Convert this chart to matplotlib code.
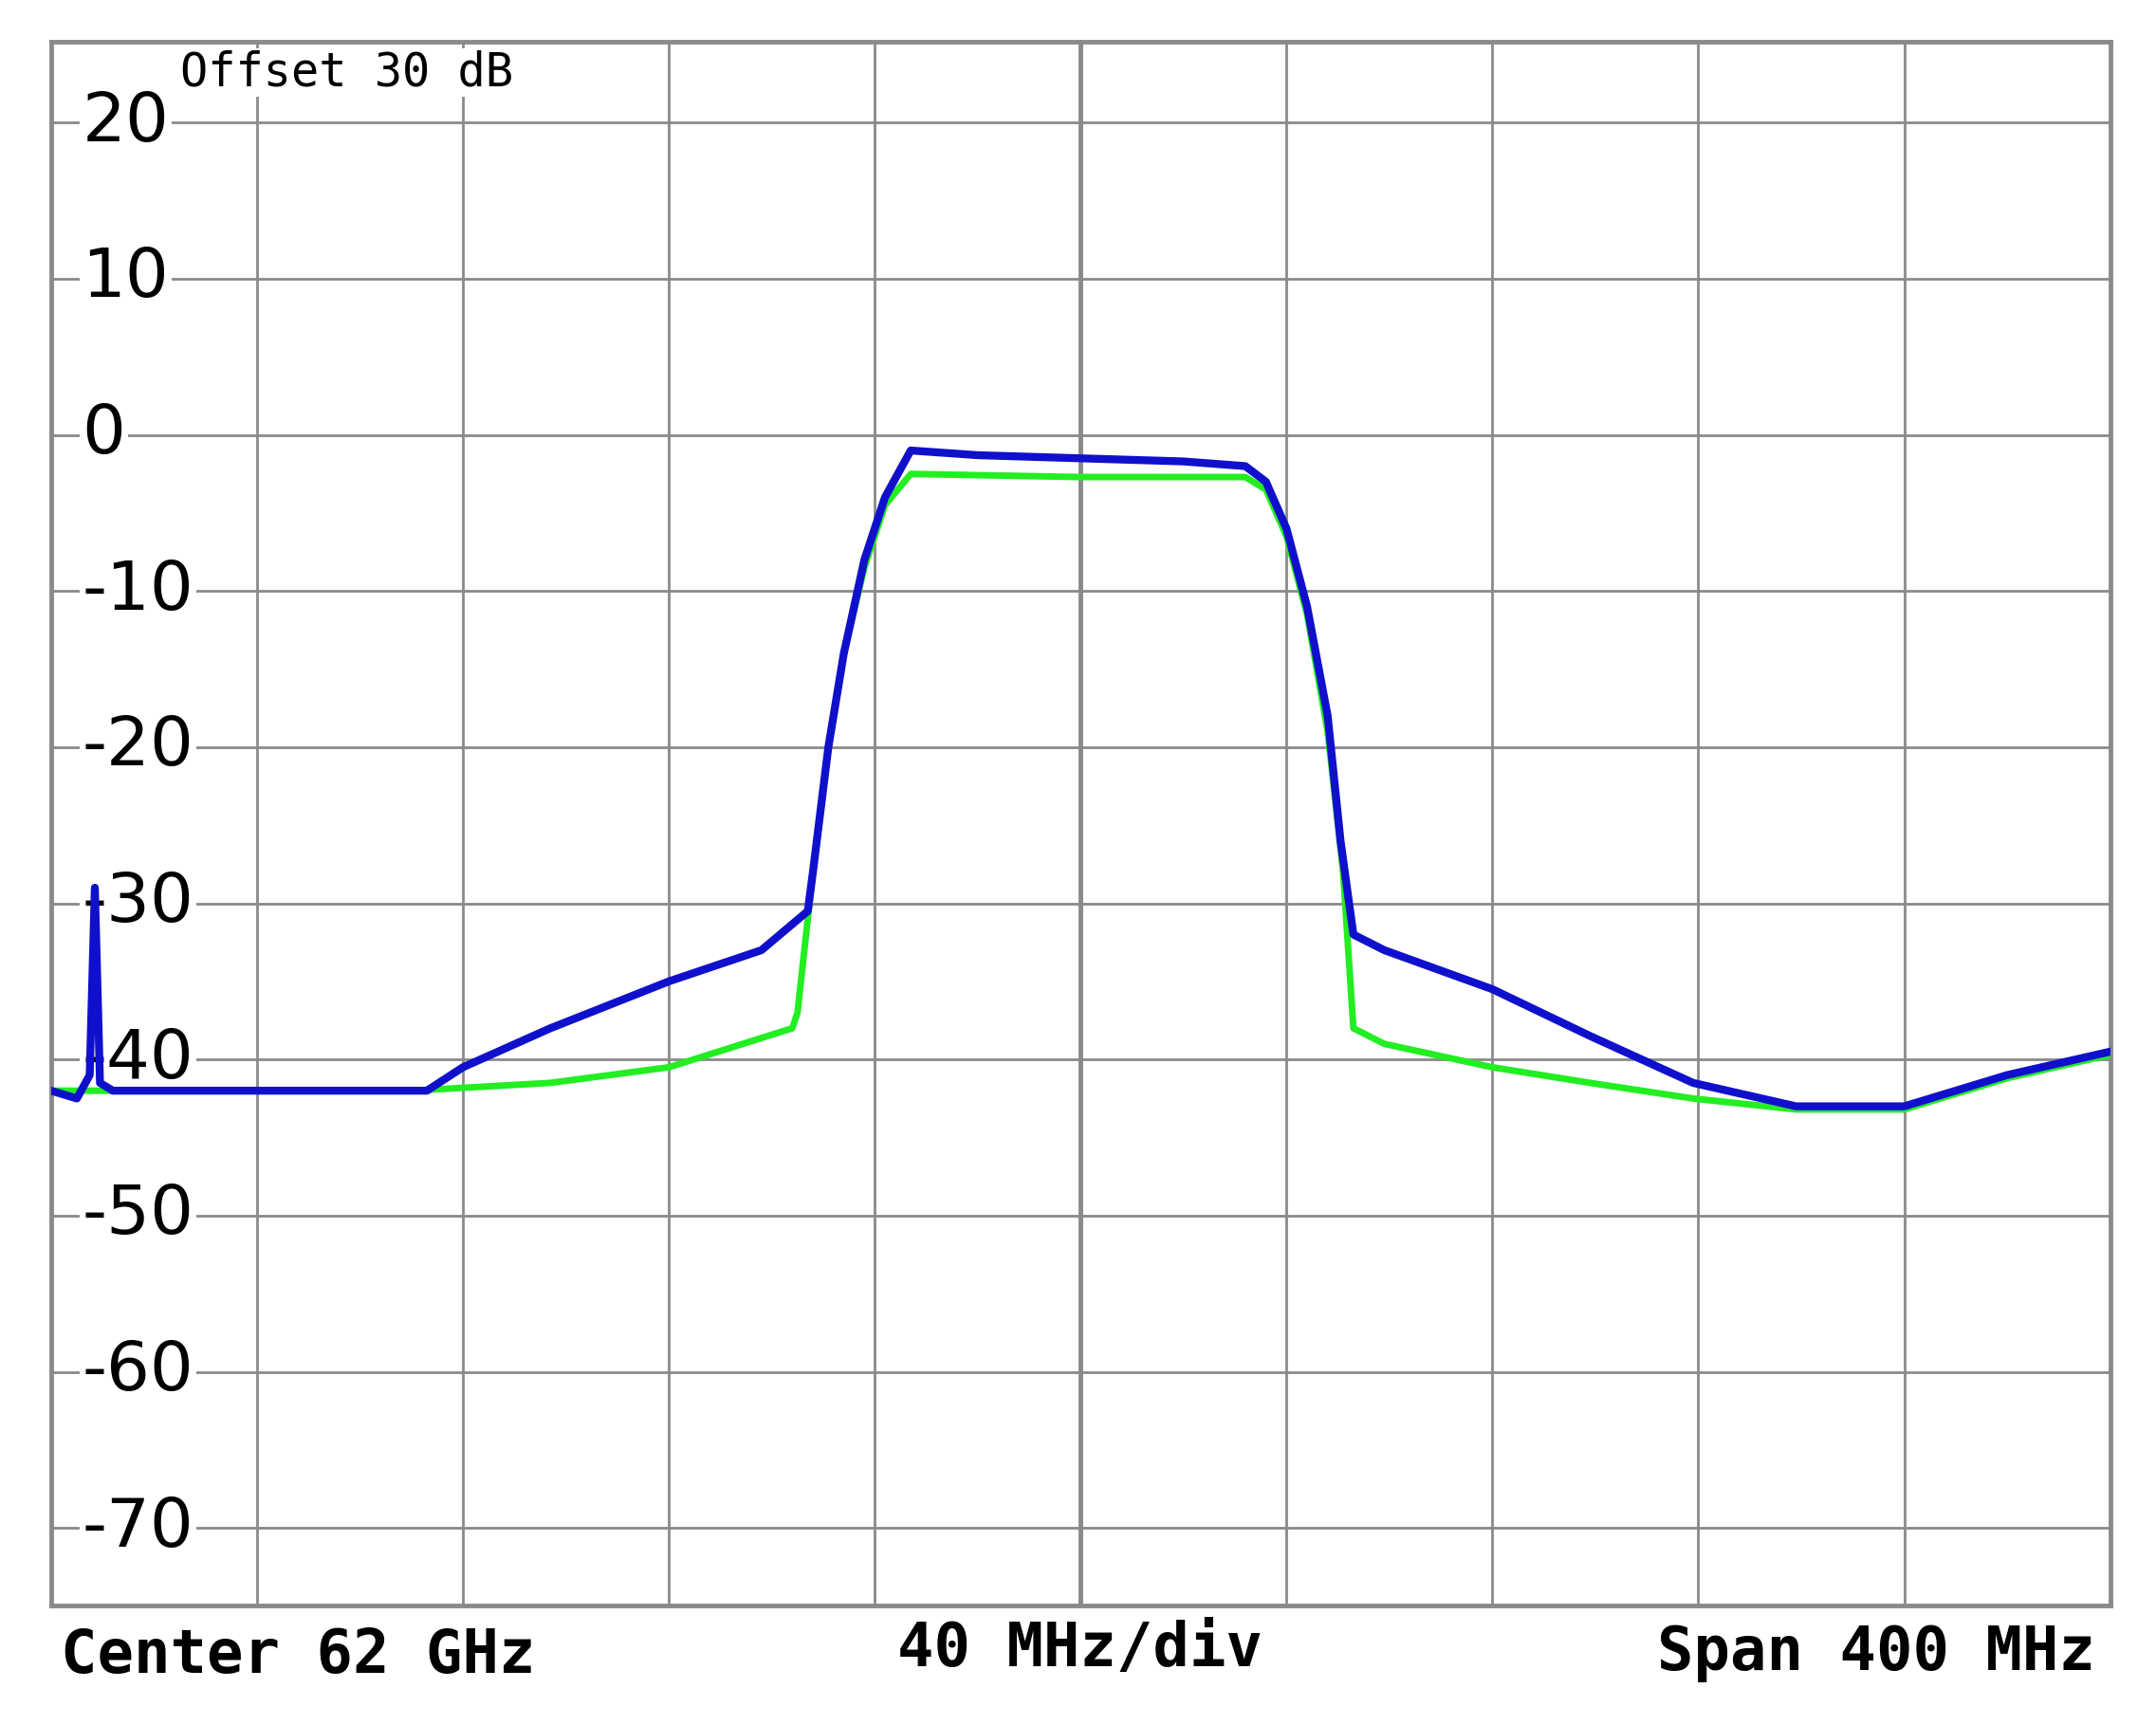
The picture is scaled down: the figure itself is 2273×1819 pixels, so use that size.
import numpy as np
import matplotlib
matplotlib.use("Agg")
import matplotlib.pyplot as plt

# Blue trace breakpoints (MHz offset from center, dB)
blue_f = [-200, -195, -192.5, -191.5, -190.5, -188, -160, -127, -120, -103, -80, -62, -53, -52, -49, -46, -42, -38, -33, -20, 0, 20, 32, 36, 40, 44, 48, 50.5, 53, 59, 80, 99, 119, 139, 160, 180, 200]
blue_db = [-42, -42.5, -41, -29, -41.5, -42, -42, -42, -40.5, -38, -35, -33, -30.5, -28, -20, -14, -8, -4, -1, -1.3, -1.5, -1.7, -2, -3, -6, -11, -18, -26, -32, -33, -35.5, -38.5, -41.5, -43, -43, -41, -39.5]
# Green trace breakpoints
green_f = [-200, -188, -160, -130, -103, -80, -56, -55, -52, -49, -46, -42, -38, -33, 0, 32, 36, 40, 44, 48, 51, 53, 59, 80, 99, 119, 139, 160, 180, 200]
green_db = [-42, -42, -42, -42, -41.5, -40.5, -38, -37, -28, -20, -14, -8.5, -4.5, -2.5, -2.7, -2.7, -3.5, -6.5, -11.5, -19, -28, -38, -39, -40.5, -41.5, -42.5, -43.2, -43.2, -41.2, -39.7]

yticks = [20, 10, 0, -10, -20, -30, -40, -50, -60, -70]

fig = plt.figure(figsize=(22.73, 18.19), dpi=100)
ax = fig.add_axes([0.0237, 0.069, 0.955, 0.907])
ax.set_xlim(-200, 200)
ax.set_ylim(-75, 25.2)
grid_c = "#8a8a8a"
for x in np.arange(-160, 200, 40):
    ax.axvline(x, color=grid_c, lw=3.5 if x == 0 else 2, zorder=1)
for y in yticks:
    ax.axhline(y, color=grid_c, lw=2, zorder=1)
for s in ax.spines.values():
    s.set_color(grid_c)
    s.set_linewidth(3.5)
ax.set_xticks([]); ax.set_yticks([])

ax.plot(green_f, green_db, color="#22ee22", lw=5, zorder=6)
ax.plot(blue_f, blue_db, color="#1010cc", lw=6, zorder=7)

for y in yticks:
    ax.text(-194, y, str(y), fontsize=52, va="center", ha="left",
            family="DejaVu Sans", bbox=dict(facecolor="white", edgecolor="none", pad=2), zorder=5)
ax.text(-175, 23.2, "Offset 30 dB", fontsize=35, va="center", ha="left", family="DejaVu Sans Mono",
        bbox=dict(facecolor="white", edgecolor="none", pad=1), zorder=5)

fig.text(0.028, 0.040, "Center 62 GHz", fontsize=46, family="DejaVu Sans Mono", weight="bold", va="center", ha="left")
fig.text(0.501, 0.044, "40 MHz/div", fontsize=46, family="DejaVu Sans Mono", weight="bold", va="center", ha="center")
fig.text(0.972, 0.042, "Span 400 MHz", fontsize=46, family="DejaVu Sans Mono", weight="bold", va="center", ha="right")

fig.savefig("out.png", dpi=100, facecolor="white")
